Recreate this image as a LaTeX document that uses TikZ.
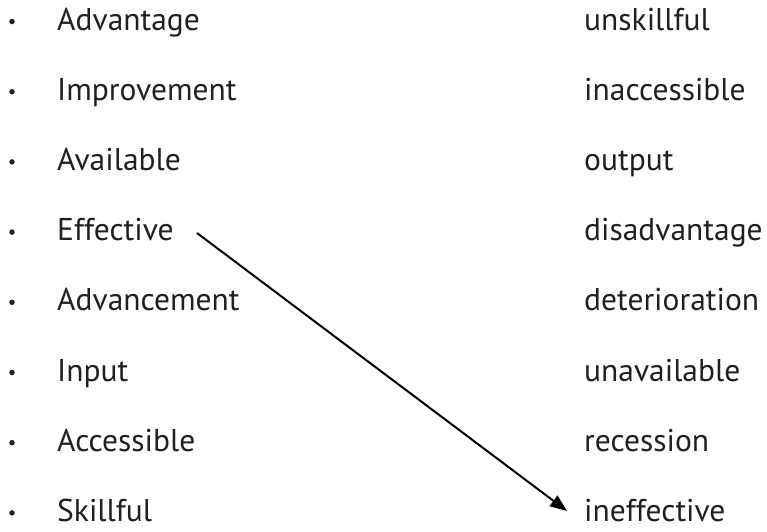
\documentclass[tikz,border=0pt]{standalone}
\usepackage{fontspec}
\setmainfont{PT Sans}
\usetikzlibrary{arrows.meta}
\definecolor{txt}{HTML}{231F20}
\begin{document}
\begin{tikzpicture}[x=1pt,y=-1pt,
  word/.style={anchor=base west,inner sep=0pt,text=txt,font=\fontsize{31.5}{31.5}\selectfont},
  bul/.style={fill=txt,circle,inner sep=0pt,minimum size=5.5pt}]
\useasboundingbox (0,0) rectangle (767,531);
\foreach \w [count=\i from 0] in {Advantage,Improvement,Available,Effective,Advancement,Input,Accessible,Skillful}{
  \node[word] (L\i) at (57,{30+\i*70.2}) {\w};
  \node[bul] (B\i) at (12,{30-8.5+\i*70.2}) {};
}
\foreach \w [count=\i from 0] in {unskillful,inaccessible,output,disadvantage,deterioration,unavailable,recession,ineffective}{
  \node[word] (R\i) at (584,{30+\i*70.2}) {\w};
}
\coordinate (s) at (197,233);
\coordinate (e) at (567,511);
\draw[line width=2pt,-{Triangle[length=17pt,width=13pt]}] (s) -- (e);
\end{tikzpicture}
\end{document}
